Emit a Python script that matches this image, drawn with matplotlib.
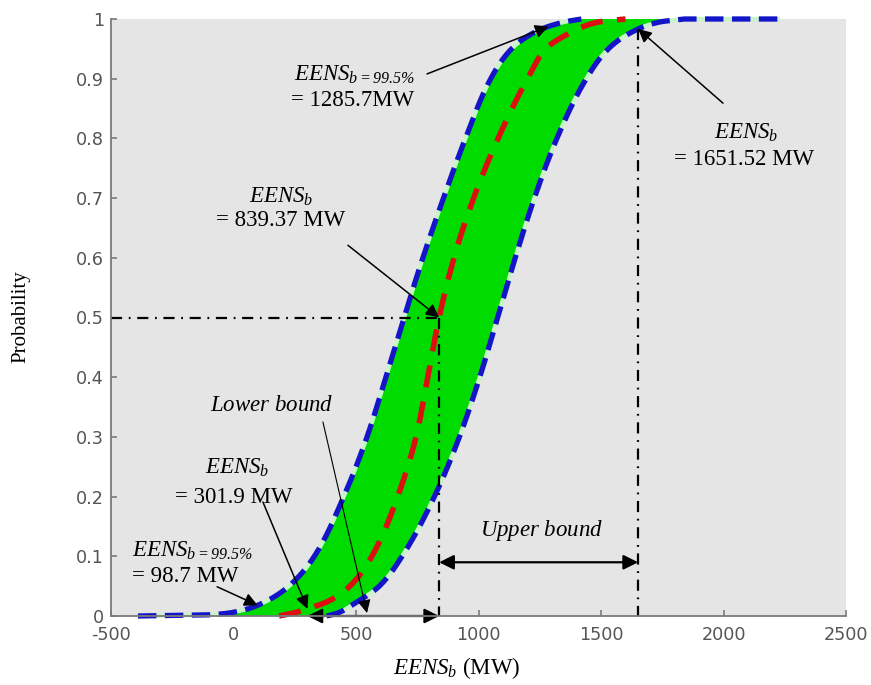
import numpy as np
import matplotlib
matplotlib.use("Agg")
import matplotlib.pyplot as plt

plt.rcParams['mathtext.fontset'] = 'custom'
plt.rcParams['mathtext.rm'] = 'Liberation Serif'
plt.rcParams['mathtext.it'] = 'Liberation Serif:italic'
plt.rcParams['mathtext.sf'] = 'Liberation Serif:italic'
plt.rcParams['mathtext.bf'] = 'Liberation Serif:bold'
plt.rcParams['axes.unicode_minus'] = False

# ---- data: cumulative probability curves of EENS_b (MW) ----
lower_p = [0, 0.002, 0.008, 0.02, 0.05, 0.1, 0.2, 0.3, 0.4, 0.5, 0.6, 0.7,
           0.8, 0.9, 0.95, 0.98, 0.995, 1.0]
lower_x = [-390, -100, 20, 110, 226, 330, 450, 545, 622, 696, 773, 857,
           947, 1050, 1135, 1240, 1350, 1420]

median_p = [0, 0.005, 0.012, 0.025, 0.05, 0.1, 0.2, 0.3, 0.4, 0.5, 0.6, 0.7,
            0.8, 0.9, 0.95, 0.98, 0.995, 1.0]
median_x = [186, 245, 301.9, 388, 475, 565, 670, 745, 793, 839.37, 900, 980,
            1080, 1200, 1275, 1390, 1490, 1600]

upper_p = [0, 0.005, 0.02, 0.05, 0.1, 0.2, 0.3, 0.4, 0.5, 0.6, 0.7,
           0.8, 0.9, 0.95, 0.98, 0.995, 1.0]
upper_x = [380, 425, 490, 595, 688, 820, 922, 1005, 1078, 1150, 1228,
           1320, 1440, 1530, 1635, 1740, 1840]
upper_tail_x = 2230   # flat continuation at probability 1

# annotated values (MW)
eens_low_995 = 98.7
eens_low = 301.9
eens_mid = 839.37
eens_up_995 = 1285.7
eens_up = 1651.52

x_ticks = [-500, 0, 500, 1000, 1500, 2000, 2500]
y_ticks = [0, 0.1, 0.2, 0.3, 0.4, 0.5, 0.6, 0.7, 0.8, 0.9, 1.0]
y_tick_labels = ['0', '0.1', '0.2', '0.3', '0.4', '0.5', '0.6', '0.7', '0.8', '0.9', '1']


def pchip(pk, xk, pq):
    """Monotone piecewise cubic through (pk, xk), evaluated at pq."""
    pk = np.asarray(pk, float)
    xk = np.asarray(xk, float)
    h = np.diff(pk)
    d = np.diff(xk) / h
    m = np.zeros_like(xk)
    for k in range(1, len(xk) - 1):
        if d[k - 1] * d[k] > 0:
            w1 = 2 * h[k] + h[k - 1]
            w2 = h[k] + 2 * h[k - 1]
            m[k] = (w1 + w2) / (w1 / d[k - 1] + w2 / d[k])
    m[0], m[-1] = d[0], d[-1]
    idx = np.clip(np.searchsorted(pk, pq) - 1, 0, len(h) - 1)
    t = (pq - pk[idx]) / h[idx]
    h00 = 2 * t**3 - 3 * t**2 + 1
    h10 = t**3 - 2 * t**2 + t
    h01 = -2 * t**3 + 3 * t**2
    h11 = t**3 - t**2
    return (h00 * xk[idx] + h10 * h[idx] * m[idx]
            + h01 * xk[idx + 1] + h11 * h[idx] * m[idx + 1])


def smooth(pk, xk):
    pk = np.asarray(pk, float)
    pq = np.unique(np.concatenate([pk, np.linspace(pk[0], pk[-1], 800),
                                   np.linspace(pk[0], 0.05, 300),
                                   np.linspace(0.95, pk[-1], 300)]))
    return pchip(pk, xk, pq), pq


lx, lp = smooth(lower_p, lower_x)
mx, mp = smooth(median_p, median_x)
ux, up = smooth(upper_p, upper_x)
ux = np.append(ux, upper_tail_x)
up = np.append(up, 1.0)


def prob_at(xs, ps, x):
    return float(np.interp(x, xs, ps))


p_low_995 = prob_at(lx, lp, eens_low_995)
p_low = prob_at(mx, mp, eens_low)
p_up_995 = prob_at(lx, lp, eens_up_995)
p_up = prob_at(ux[:-1], up[:-1], eens_up)

fig = plt.figure(figsize=(8.71, 6.85), dpi=100)
ax = fig.add_axes([111 / 871, 69 / 685, 735 / 871, 597 / 685])
ax.set_facecolor('#e5e5e5')
ax.set_xlim(-500, 2500)
ax.set_ylim(0, 1)

# green band between the two 99.5 % bounds
poly_x = np.concatenate([lx, ux[::-1]])
poly_y = np.concatenate([lp, up[::-1]])
ax.fill(poly_x, poly_y, color='#00dc00', lw=0, zorder=1)

# pale rim under the dashed bound curves
for xs, ps in [(lx, lp), (ux, up)]:
    ax.plot(xs, ps, color='#c8f5c8', lw=3.0, zorder=2, clip_on=False,
            solid_capstyle='butt')
    ax.plot(xs, ps, color='#1414c8', lw=3.8, zorder=3, clip_on=False,
            dashes=(3.5, 1.6), dash_capstyle='butt')

ax.plot(mx, mp, color='#dc1010', lw=4.0, zorder=3, clip_on=False,
        dashes=(4.0, 2.6), dash_capstyle='butt')

# dash-dot reference lines
dd = dict(color='black', lw=1.6, dashes=(5, 3, 0.8, 3), zorder=4)
ax.plot([-500, eens_mid], [0.5, 0.5], **dd)
ax.plot([eens_mid, eens_mid], [0.5, 0], **dd)
ax.plot([eens_up, eens_up], [p_up, 0], **dd)

# annotation texts
serif = 'Liberation Serif'
fs = 16.5


def label(x, y, s, ha='center'):
    ax.text(x, y, s, ha=ha, va='center', fontsize=fs, family=serif, zorder=6)


label(492, 0.906, r'$EENS_{\mathsf{b=99.5\%}}$')
label(488, 0.864, '= 1285.7MW')
label(194, 0.702, r'$EENS_{b}$')
label(194, 0.662, '= 839.37 MW')
label(2092, 0.809, r'$EENS_{b}$')
label(2084, 0.764, '= 1651.52 MW')
label(14, 0.248, r'$EENS_{b}$')
label(2, 0.199, '= 301.9 MW')
label(-414, 0.109, r'$EENS_{\mathsf{b=99.5\%}}$', ha='left')
label(-414, 0.067, '= 98.7 MW', ha='left')
label(157, 0.353, r'$\mathit{Lower\ bound}$')
label(1259, 0.144, r'$\mathit{Upper\ bound}$')


def arrow(tip, tail, lw=1.1, ms=20):
    ax.annotate('', xy=tip, xytext=tail,
                arrowprops=dict(arrowstyle='-|>', color='black', lw=lw,
                                mutation_scale=ms, shrinkA=0, shrinkB=0),
                zorder=7)


arrow((eens_up_995, p_up_995), (790, 0.908))
arrow((eens_mid, 0.5), (467, 0.621))
arrow((eens_up, p_up), (1998, 0.859))
arrow((eens_low, p_low), (120, 0.191))
arrow((eens_low_995, p_low_995), (-67, 0.049))
arrow((545, 0.005), (365, 0.325), lw=0.8)


def double_arrow(x0, x1, y):
    ax.annotate('', xy=(x1, y), xytext=(x0, y),
                arrowprops=dict(arrowstyle='<|-|>', color='black', lw=1.6,
                                mutation_scale=22, shrinkA=0, shrinkB=0),
                zorder=7)


double_arrow(eens_low, eens_mid, 0.0)
double_arrow(eens_mid, eens_up, 0.09)

# axes styling
for s in ['top', 'right']:
    ax.spines[s].set_visible(False)
for s in ['left', 'bottom']:
    ax.spines[s].set_color('#7a7a7a')
    ax.spines[s].set_linewidth(1.3)
    ax.spines[s].set_zorder(8)
ax.set_xticks(x_ticks)
ax.set_yticks(y_ticks)
ax.set_yticklabels(y_tick_labels)
ax.tick_params(direction='in', length=4, width=1.2, color='#7a7a7a',
               labelcolor='#555555', labelsize=12.7)
ax.tick_params(axis='x', pad=7)
ax.tick_params(axis='y', pad=5)

fig.text(21 / 871, 1 - 317 / 685, 'Probability', rotation=90, ha='center',
         va='center', fontsize=15, family=serif)
fig.text(457 / 871, 1 - 668 / 685, r'$EENS_b$ (MW)', ha='center', va='center',
         fontsize=fs, family=serif)

fig.savefig('out.png', dpi=100, facecolor='white')
